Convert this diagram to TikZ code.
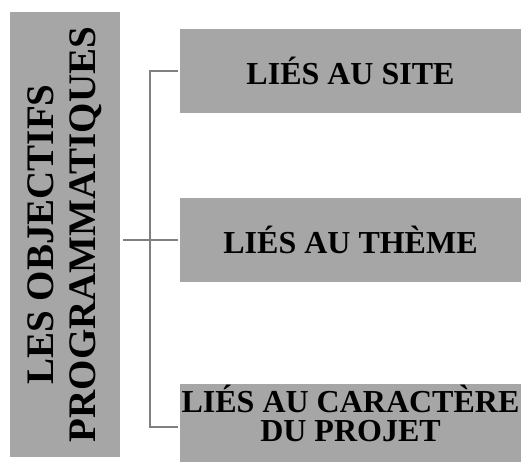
\documentclass[tikz,border=0pt]{standalone}
\usepackage{fontspec}
\setmainfont{Liberation Serif}
\usetikzlibrary{positioning}

\begin{document}
\begin{tikzpicture}[x=1pt, y=-1pt,
  objbox/.style={fill=black!35, inner sep=0pt, align=center, font=\bfseries\fontsize{39}{42}\selectfont},
  liebox/.style={fill=black!35, inner sep=0pt, align=center, minimum width=341pt, font=\bfseries\fontsize{32}{29}\selectfont},
  conn/.style={draw=black!50, line width=1.8pt}]
  \useasboundingbox (0,0) rectangle (521,462);
  \node[objbox, rotate=90, minimum width=445pt, minimum height=110pt] (obj) at (65,234.5) {LES OBJECTIFS\\PROGRAMMATIQUES};
  \node[liebox, minimum height=84pt] (site) at (350.5,71) {LIÉS AU SITE};
  \node[liebox, minimum height=84pt] (theme) at (350.5,240) {LIÉS AU THÈME};
  \node[liebox, minimum height=78pt, text depth=20pt] (caract) at (350.5,423) {LIÉS AU CARACTÈRE\\DU PROJET};
  \coordinate (hub) at (150,240);
  \coordinate (cbr) at ([yshift=-4pt]caract.west);
  \draw[conn, shorten <=2pt, shorten >=2pt] (site.west) -| (hub) |- (cbr);
  \draw[conn, shorten <=3pt, shorten >=2pt] (obj.south |- hub) -- (theme.west);
\end{tikzpicture}
\end{document}
